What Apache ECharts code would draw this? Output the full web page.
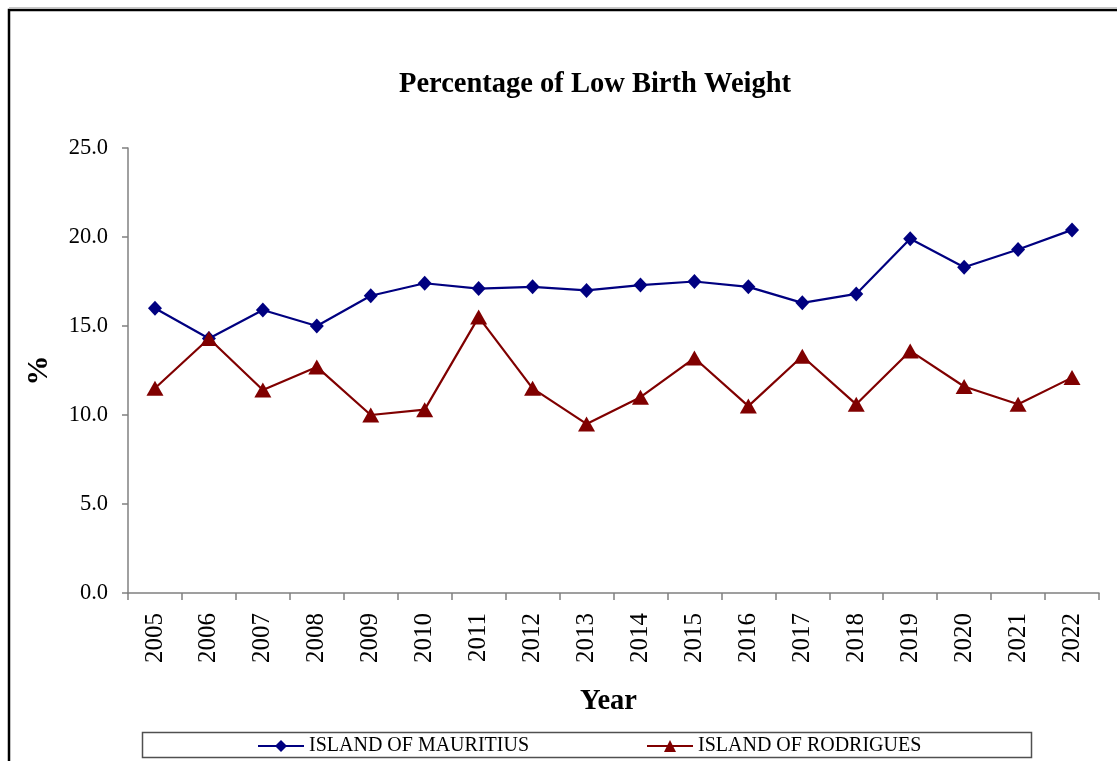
<!DOCTYPE html>
<html>
<head>
<meta charset="utf-8">
<script src="https://cdn.jsdelivr.net/npm/echarts@6/dist/echarts.min.js"></script>
<style>
html,body{margin:0;padding:0;background:#fff;}
#chart{width:1117px;height:761px;}
</style>
</head>
<body>
<div id="chart"></div>
<script>
const years = ['2005','2006','2007','2008','2009','2010','2011','2012','2013','2014','2015','2016','2017','2018','2019','2020','2021','2022'];
const mauritius = [16.0,14.3,15.9,15.0,16.7,17.4,17.1,17.2,17.0,17.3,17.5,17.2,16.3,16.8,19.9,18.3,19.3,20.4];
const rodrigues = [11.5,14.3,11.4,12.7,10.0,10.3,15.5,11.5,9.5,11.0,13.2,10.5,13.3,10.6,13.6,11.6,10.6,12.1];
const seriesNames = ['ISLAND OF MAURITIUS','ISLAND OF RODRIGUES'];
const titleText = 'Percentage of Low Birth Weight';

const FONT = "'Liberation Serif','Times New Roman',serif";
const chart = echarts.init(document.getElementById('chart'));
chart.setOption({
  animation: false,
  backgroundColor: '#fff',
  textStyle: {fontFamily: FONT, color: '#000'},
  title: {
    text: titleText,
    left: 399, top: 70, padding: 0,
    textStyle: {fontFamily: FONT, fontSize: 28.5, fontWeight: 'bold', color: '#000'}
  },
  graphic: [
    {type: 'line', shape: {x1: 9, y1: 7.5, x2: 1117, y2: 7.5}, style: {stroke: '#c8c8c8', lineWidth: 1}},
    {type: 'rect', shape: {x: 9, y: 10, width: 1200, height: 800}, style: {fill: 'none', stroke: '#000', lineWidth: 2.5}},
    {type: 'rect', shape: {x: 142.5, y: 732.5, width: 889, height: 25}, style: {fill: 'none', stroke: '#505050', lineWidth: 1.5}}
  ],
  legend: [
    {data: [seriesNames[0]], left: 257, top: 736, padding: 0, itemWidth: 46, itemHeight: 15, itemGap: 0,
     textStyle: {fontFamily: FONT, fontSize: 20, color: '#000'}},
    {data: [seriesNames[1]], left: 646, top: 736, padding: 0, itemWidth: 46, itemHeight: 15, itemGap: 0,
     textStyle: {fontFamily: FONT, fontSize: 20, color: '#000'}}
  ],
  grid: {left: 128, right: 18, top: 148, bottom: 168, containLabel: false},
  xAxis: {
    type: 'category',
    data: years,
    boundaryGap: true,
    name: 'Year',
    nameLocation: 'middle',
    nameGap: 94,
    nameTextStyle: {fontFamily: FONT, fontSize: 28.5, fontWeight: 'bold', color: '#000', padding: [0, 10, 0, 0]},
    axisLine: {show: true, lineStyle: {color: '#808080', width: 1.5}},
    axisTick: {show: true, alignWithLabel: false, length: 7, lineStyle: {color: '#808080', width: 1.5}},
    axisLabel: {rotate: 90, fontFamily: FONT, fontSize: 25, color: '#000', margin: 20, interval: 0},
    splitLine: {show: false}
  },
  yAxis: {
    type: 'value',
    min: 0, max: 25, interval: 5,
    name: '%',
    nameLocation: 'middle',
    nameRotate: 90,
    nameGap: 74,
    nameTextStyle: {fontFamily: FONT, fontSize: 30, fontWeight: 'bold', color: '#000'},
    axisLine: {show: true, lineStyle: {color: '#808080', width: 1.5}},
    axisTick: {show: true, length: 6, lineStyle: {color: '#808080', width: 1.5}},
    axisLabel: {fontFamily: FONT, fontSize: 22.5, color: '#000', margin: 20, formatter: v => v.toFixed(1)},
    splitLine: {show: false}
  },
  series: [
    {name: seriesNames[0], type: 'line', data: mauritius, symbol: 'diamond', symbolSize: [14, 15],
     itemStyle: {color: '#000080'}, lineStyle: {color: '#000080', width: 2.2}},
    {name: seriesNames[1], type: 'line', data: rodrigues, symbol: 'triangle', symbolSize: [17, 15],
     itemStyle: {color: '#800000'}, lineStyle: {color: '#800000', width: 2.2}}
  ]
});
</script>
</body>
</html>
